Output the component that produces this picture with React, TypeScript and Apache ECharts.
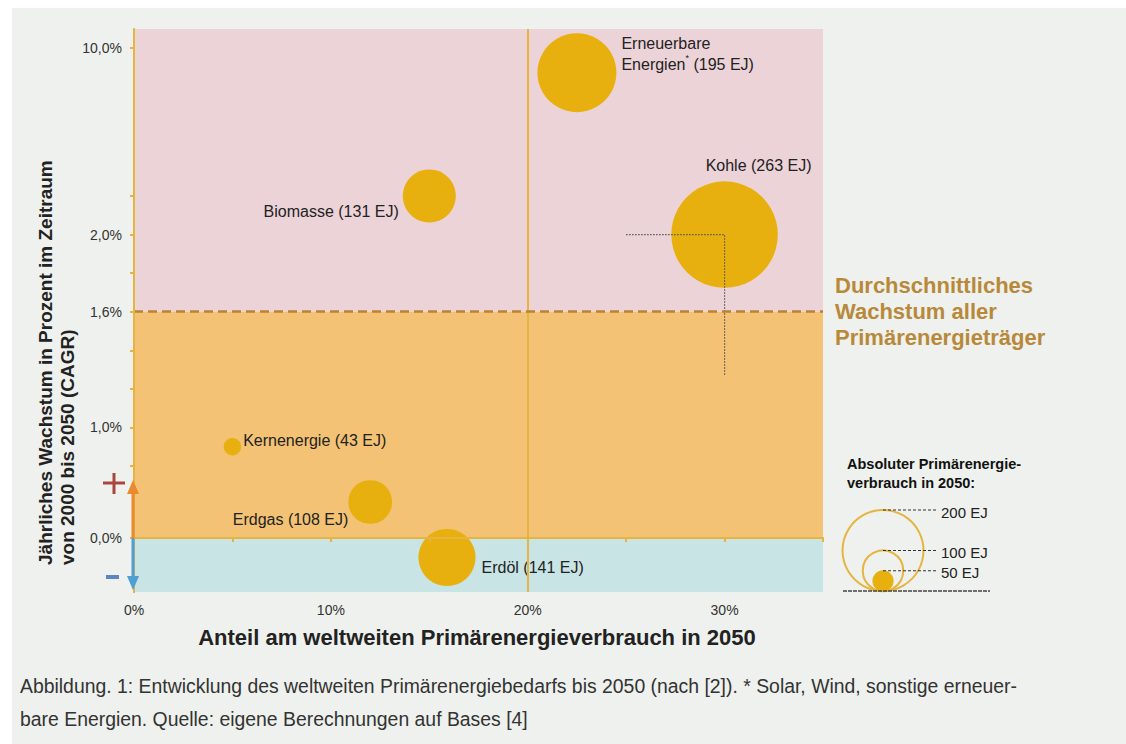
import React, { useEffect, useRef } from 'react';
import * as echarts from 'echarts';

// ---- data ----
const carriers = ['Erneuerbare Energien', 'Kohle', 'Biomasse', 'Kernenergie', 'Erdgas', 'Erdöl'];
const shareIn2050 = [22.5, 30, 15, 5, 12, 15.9]; // % of world primary energy use 2050
const growthCAGR = [8.7, 2.0, 2.2, 0.9, 0.4, -0.18]; // % per year 2000-2050
const consumptionEJ = [195, 263, 131, 43, 108, 141];

const xMax = 35;
const xInterval = 5;
const yLabelValues = [0, 1.0, 1.6, 2.0, 10.0];
const yTickValues = [0, 0.8, 1.0, 1.2, 1.4, 1.6, 1.8, 2.0, 2.2, 10.0];
const averageGrowth = 1.6;
const splitShare = 20;
const kohleGuideX = [25, 30, 30];
const kohleGuideY = [2.0, 2.0, 1.27];
const legendEJ = [200, 100, 50];

// piecewise (broken) growth axis
const REAL_BREAKS = [-0.5, 0, 0.8, 2.2, 10];
const DISP_BREAKS = [-54, 0, 72, 342, 490];
const Y_MIN_DISP = -54;
const Y_MAX_DISP = 509;

function toDisp(r: number): number {
  const n = REAL_BREAKS.length;
  let i = 0;
  while (i < n - 2 && r > REAL_BREAKS[i + 1]) i++;
  const t = (r - REAL_BREAKS[i]) / (REAL_BREAKS[i + 1] - REAL_BREAKS[i]);
  return DISP_BREAKS[i] + t * (DISP_BREAKS[i + 1] - DISP_BREAKS[i]);
}
function toReal(d: number): number {
  const n = DISP_BREAKS.length;
  let i = 0;
  while (i < n - 2 && d > DISP_BREAKS[i + 1]) i++;
  const t = (d - DISP_BREAKS[i]) / (DISP_BREAKS[i + 1] - DISP_BREAKS[i]);
  return REAL_BREAKS[i] + t * (REAL_BREAKS[i + 1] - REAL_BREAKS[i]);
}

const FONT = 'Liberation Sans, Arial, sans-serif';
const GOLD = '#e6b53f';
const BUBBLE = '#e8b00e';
const SIZE_PER_EJ = 0.405; // diameter px per EJ

const labelLayout: Record<string, any> = {
  'Erneuerbare Energien': { position: 'right', distance: 5, offset: [0, -19] },
  Kohle: { position: 'top', distance: 5, offset: [34, 0] },
  Biomasse: { position: 'left', distance: 4, offset: [0, 15] },
  Kernenergie: { position: 'right', distance: 2, offset: [0, -6] },
  Erdgas: { position: 'left', distance: 0, offset: [0, 17] },
  Erdöl: { position: 'right', distance: 6, offset: [0, 10] },
};

function labelText(name: string, ej: number): string {
  if (name === 'Erneuerbare Energien') return `{t|Erneuerbare}\n{t|Energien}{s|*}{t| (${ej} EJ)}`;
  return `{t|${name} (${ej} EJ)}`;
}

export default function App() {
  const ref = useRef<HTMLDivElement>(null);
  useEffect(() => {
    document.body.style.overflow = 'hidden';
    const chart = echarts.init(ref.current!, undefined, { renderer: 'svg' });

    const bubbleData = carriers.map((name, i) => ({
      name,
      value: [shareIn2050[i], toDisp(growthCAGR[i]), consumptionEJ[i]],
      label: {
        show: true,
        ...labelLayout[name],
        formatter: labelText(name, consumptionEJ[i]),
        rich: {
          t: { fontFamily: FONT, fontSize: 16, color: '#222', lineHeight: 21 },
          s: { fontFamily: FONT, fontSize: 9, color: '#222', verticalAlign: 'top', padding: [0, 0, 8, 0] },
        },
      },
    }));

    const legendCx = 883;
    const legendBase = 591;
    const legendEls: any[] = [];
    legendEJ.forEach((ej, i) => {
      const r = (ej * SIZE_PER_EJ) / 2;
      const top = legendBase - 2 * r;
      legendEls.push({
        type: 'circle',
        shape: { cx: legendCx, cy: legendBase - r, r },
        style: i === legendEJ.length - 1 ? { fill: BUBBLE, stroke: BUBBLE } : { fill: 'none', stroke: GOLD, lineWidth: 2 },
        z: 5,
      });
      legendEls.push({
        type: 'line',
        shape: { x1: legendCx, y1: top, x2: 938, y2: top },
        style: { stroke: '#333', lineWidth: 1, lineDash: [3, 2] },
        z: 6,
      });
      legendEls.push({
        type: 'text',
        x: 941,
        y: top + 2,
        style: { text: `${ej} EJ`, fontFamily: FONT, fontSize: 15, fill: '#222', align: 'left', verticalAlign: 'middle' },
        z: 6,
      });
    });

    const option: any = {
      animation: false,
      backgroundColor: 'transparent',
      textStyle: { fontFamily: FONT },
      grid: { left: 134, right: 303, top: 29, bottom: 152, containLabel: false },
      xAxis: [
        {
          type: 'value',
          min: 0,
          max: xMax,
          interval: xInterval,
          z: 10,
          axisLine: { show: true, lineStyle: { color: GOLD, width: 2 } },
          axisTick: { show: true, length: 4, lineStyle: { color: GOLD, width: 2 } },
          axisLabel: {
            margin: 11,
            fontFamily: FONT,
            fontSize: 14,
            color: '#333',
            formatter: (v: number) => (v % 10 === 0 && v < xMax ? `${v}%` : ''),
          },
          splitLine: { show: false },
        },
        {
          type: 'value',
          position: 'top',
          min: 0,
          max: xMax,
          z: 10,
          axisLine: { show: true, lineStyle: { color: GOLD, width: 2 } },
          axisTick: { show: false },
          axisLabel: { show: false },
          splitLine: { show: false },
        },
      ],
      yAxis: [
        {
          type: 'value',
          min: Y_MIN_DISP,
          max: Y_MAX_DISP,
          z: 10,
          axisLine: { show: true, lineStyle: { color: GOLD, width: 2 } },
          axisTick: {
            show: true,
            length: 4,
            customValues: yTickValues.map(toDisp),
            lineStyle: { color: GOLD, width: 2 },
          },
          axisLabel: {
            margin: 12,
            fontFamily: FONT,
            fontSize: 14,
            color: '#333',
            customValues: yLabelValues.map(toDisp),
            formatter: (v: number) => `${toReal(v).toFixed(1).replace('.', ',')}%`,
          },
          splitLine: { show: false },
        },
        {
          type: 'value',
          position: 'right',
          min: Y_MIN_DISP,
          max: Y_MAX_DISP,
          z: 10,
          axisLine: { show: true, lineStyle: { color: GOLD, width: 2 } },
          axisTick: { show: false },
          axisLabel: { show: false },
          splitLine: { show: false },
        },
      ],
      series: [
        {
          type: 'line',
          name: 'zones',
          data: [],
          z: 1,
          silent: true,
          markArea: {
            silent: true,
            data: [
              [{ yAxis: toDisp(averageGrowth), itemStyle: { color: '#ecd3d8' } }, { yAxis: Y_MAX_DISP }],
              [{ yAxis: toDisp(0), itemStyle: { color: '#f3c274' } }, { yAxis: toDisp(averageGrowth) }],
              [{ yAxis: Y_MIN_DISP, itemStyle: { color: '#c9e4e5' } }, { yAxis: toDisp(0) }],
            ],
          },
          markLine: {
            silent: true,
            symbol: 'none',
            label: { show: false },
            data: [
              { xAxis: splitShare, lineStyle: { color: GOLD, width: 2, type: 'solid' } },
              { yAxis: toDisp(averageGrowth), lineStyle: { color: '#b98335', width: 2.5, type: [9, 5] } },
            ],
          },
        },
        {
          type: 'scatter',
          name: 'Primärenergieträger',
          z: 3,
          data: bubbleData,
          symbolSize: (v: number[]) => v[2] * SIZE_PER_EJ,
          itemStyle: { color: BUBBLE, opacity: 1 },
        },
        {
          type: 'line',
          name: 'guide',
          z: 4,
          symbol: 'none',
          silent: true,
          data: kohleGuideX.map((x, i) => [x, toDisp(kohleGuideY[i])]),
          lineStyle: { color: '#555', width: 1.2, type: [1.5, 1.5] },
        },
      ],
      graphic: [
        { type: 'rect', z: -10, silent: true, shape: { x: 12, y: 8, width: 1114, height: 736 }, style: { fill: '#eef1ed' } },
        // growth direction arrows
        { type: 'line', z: 20, shape: { x1: 133, y1: 538, x2: 133, y2: 492 }, style: { stroke: '#ea8a2c', lineWidth: 3 } },
        { type: 'polygon', z: 20, shape: { points: [[127, 494], [139, 494], [133, 480]] }, style: { fill: '#ea8a2c' } },
        { type: 'line', z: 20, shape: { x1: 133, y1: 538, x2: 133, y2: 578 }, style: { stroke: '#4f9fd2', lineWidth: 3 } },
        { type: 'polygon', z: 20, shape: { points: [[127, 576], [139, 576], [133, 590]] }, style: { fill: '#4f9fd2' } },
        { type: 'line', z: 20, shape: { x1: 103, y1: 483, x2: 125, y2: 483 }, style: { stroke: '#a8473c', lineWidth: 3 } },
        { type: 'line', z: 20, shape: { x1: 114, y1: 473, x2: 114, y2: 494 }, style: { stroke: '#a8473c', lineWidth: 3 } },
        { type: 'line', z: 20, shape: { x1: 106, y1: 577, x2: 119, y2: 577 }, style: { stroke: '#5b86c2', lineWidth: 4 } },
        // axis titles
        {
          type: 'text', x: 45, y: 565, rotation: Math.PI / 2,
          style: { text: 'Jährliches Wachstum in Prozent im Zeitraum', fontFamily: FONT, fontWeight: 'bold', fontSize: 19, fill: '#222', align: 'left', verticalAlign: 'middle' },
        },
        {
          type: 'text', x: 67, y: 565, rotation: Math.PI / 2,
          style: { text: 'von 2000 bis 2050 (CAGR)', fontFamily: FONT, fontWeight: 'bold', fontSize: 19, fill: '#222', align: 'left', verticalAlign: 'middle' },
        },
        {
          type: 'text', x: 477, y: 637,
          style: { text: 'Anteil am weltweiten Primärenergieverbrauch in 2050', fontFamily: FONT, fontWeight: 'bold', fontSize: 22, fill: '#222', align: 'center', verticalAlign: 'middle' },
        },
        // average growth note
        {
          type: 'text', x: 835, y: 272,
          style: { text: 'Durchschnittliches\nWachstum aller\nPrimärenergieträger', fontFamily: FONT, fontWeight: 'bold', fontSize: 22, lineHeight: 26, fill: '#b8893a', align: 'left', verticalAlign: 'top' },
        },
        // size legend
        {
          type: 'text', x: 847, y: 454,
          style: { text: 'Absoluter Primärenergie-\nverbrauch in 2050:', fontFamily: FONT, fontWeight: 'bold', fontSize: 14.5, lineHeight: 19, fill: '#111', align: 'left', verticalAlign: 'top' },
        },
        { type: 'line', z: 6, shape: { x1: 843, y1: 591, x2: 990, y2: 591 }, style: { stroke: '#444', lineWidth: 1.5, lineDash: [4, 1] } },
        ...legendEls,
        // caption
        {
          type: 'text', x: 20, y: 686,
          style: { text: 'Abbildung. 1: Entwicklung des weltweiten Primärenergiebedarfs bis 2050 (nach [2]). * Solar, Wind, sonstige erneuer-', fontFamily: FONT, fontSize: 19.4, fill: '#333', align: 'left', verticalAlign: 'middle' },
        },
        {
          type: 'text', x: 20, y: 719,
          style: { text: 'bare Energien. Quelle: eigene Berechnungen auf Bases [4]', fontFamily: FONT, fontSize: 19.4, fill: '#333', align: 'left', verticalAlign: 'middle' },
        },
      ],
    };

    chart.setOption(option);
    return () => chart.dispose();
  }, []);

  return <div ref={ref} style={{ position: 'fixed', left: 0, top: 0, width: 1126, height: 744, background: '#fff' }} />;
}
